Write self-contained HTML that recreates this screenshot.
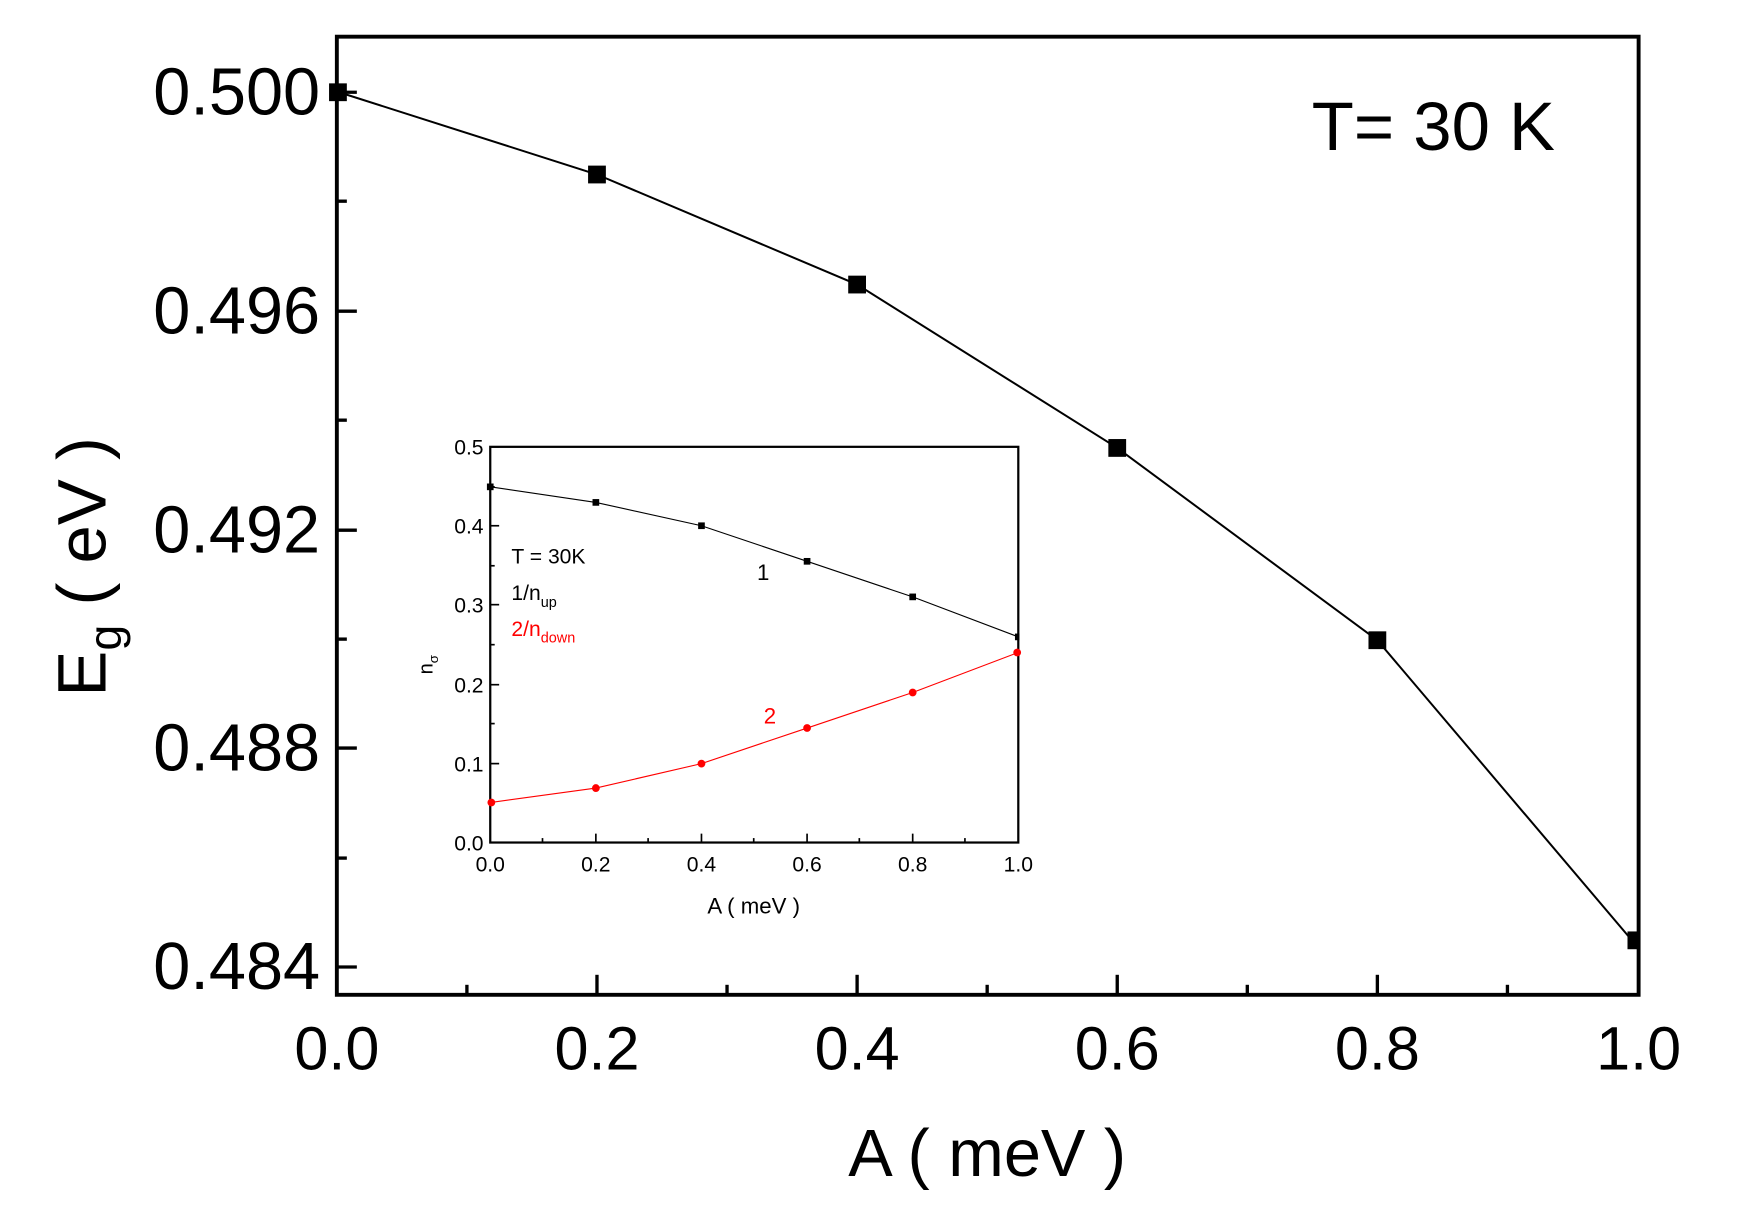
<!DOCTYPE html>
<html><head><meta charset="utf-8"><style>
html,body{margin:0;padding:0;background:#fff;}
svg{display:block;}
text{font-family:"Liberation Sans",Arial,sans-serif;}
</style></head><body>
<svg width="1742" height="1226" viewBox="0 0 1567 1103" preserveAspectRatio="none" xmlns="http://www.w3.org/2000/svg">
<rect width="1567" height="1103" fill="#fff"/>
<rect x="303" y="33" width="1171" height="862" fill="none" stroke="#000" stroke-width="3.5"/>
<g stroke="#000" stroke-width="3">
<line x1="303" y1="83" x2="321" y2="83"/><line x1="303" y1="181" x2="312" y2="181"/>
<line x1="303" y1="280" x2="321" y2="280"/><line x1="303" y1="378" x2="312" y2="378"/>
<line x1="303" y1="477" x2="321" y2="477"/><line x1="303" y1="575" x2="312" y2="575"/>
<line x1="303" y1="673" x2="321" y2="673"/><line x1="303" y1="772" x2="312" y2="772"/>
<line x1="303" y1="870" x2="321" y2="870"/>
<line x1="420" y1="895" x2="420" y2="886"/><line x1="537" y1="895" x2="537" y2="877"/>
<line x1="654" y1="895" x2="654" y2="886"/><line x1="771" y1="895" x2="771" y2="877"/>
<line x1="888" y1="895" x2="888" y2="886"/><line x1="1005" y1="895" x2="1005" y2="877"/>
<line x1="1122" y1="895" x2="1122" y2="886"/><line x1="1239" y1="895" x2="1239" y2="877"/>
<line x1="1356" y1="895" x2="1356" y2="886"/>
</g>
<g font-size="60" text-anchor="end">
<text x="288" y="103">0.500</text><text x="288" y="300">0.496</text>
<text x="288" y="497">0.492</text><text x="288" y="693">0.488</text>
<text x="288" y="890">0.484</text>
</g>
<g font-size="55" text-anchor="middle">
<text x="303" y="962">0.0</text><text x="537" y="962">0.2</text>
<text x="771" y="962">0.4</text><text x="1005" y="962">0.6</text>
<text x="1239" y="962">0.8</text><text x="1474" y="962">1.0</text>
</g>
<text x="888" y="1058" font-size="60" text-anchor="middle">A ( meV )</text>
<text transform="translate(95,510) rotate(-90)" font-size="62" text-anchor="middle">E<tspan font-size="42" dy="14">g</tspan><tspan dy="-14"> ( eV )</tspan></text>
<text x="1180" y="135" font-size="62">T= 30 K</text>
<polyline points="305,83 537,157 771,256 1005,403 1239,576 1468,846" fill="none" stroke="#000" stroke-width="1.8"/>
<g fill="#000">
<rect x="296" y="75" width="16" height="16"/><rect x="529" y="149" width="16" height="16"/>
<rect x="763" y="248" width="16" height="16"/><rect x="997" y="395" width="16" height="16"/>
<rect x="1231" y="568" width="16" height="16"/><rect x="1464" y="838" width="10" height="16"/>
</g>
<rect x="441" y="402" width="475" height="356" fill="none" stroke="#000" stroke-width="2"/>
<g stroke="#000" stroke-width="1.5">
<line x1="441" y1="758" x2="449" y2="758"/><line x1="441" y1="722" x2="445" y2="722"/>
<line x1="441" y1="687" x2="449" y2="687"/><line x1="441" y1="651" x2="445" y2="651"/>
<line x1="441" y1="616" x2="449" y2="616"/><line x1="441" y1="580" x2="445" y2="580"/>
<line x1="441" y1="544" x2="449" y2="544"/><line x1="441" y1="509" x2="445" y2="509"/>
<line x1="441" y1="473" x2="449" y2="473"/><line x1="441" y1="438" x2="445" y2="438"/>
<line x1="441" y1="402" x2="449" y2="402"/>
<line x1="488" y1="758" x2="488" y2="754"/><line x1="536" y1="758" x2="536" y2="750"/>
<line x1="583" y1="758" x2="583" y2="754"/><line x1="631" y1="758" x2="631" y2="750"/>
<line x1="678" y1="758" x2="678" y2="754"/><line x1="726" y1="758" x2="726" y2="750"/>
<line x1="773" y1="758" x2="773" y2="754"/><line x1="821" y1="758" x2="821" y2="750"/>
<line x1="868" y1="758" x2="868" y2="754"/>
</g>
<g font-size="19" text-anchor="end">
<text x="435" y="765">0.0</text><text x="435" y="694">0.1</text>
<text x="435" y="623">0.2</text><text x="435" y="551">0.3</text>
<text x="435" y="480">0.4</text><text x="435" y="409">0.5</text>
</g>
<g font-size="19" text-anchor="middle">
<text x="441" y="784">0.0</text><text x="536" y="784">0.2</text>
<text x="631" y="784">0.4</text><text x="726" y="784">0.6</text>
<text x="821" y="784">0.8</text><text x="916" y="784">1.0</text>
</g>
<text x="678" y="822" font-size="20" text-anchor="middle">A ( meV )</text>
<text transform="translate(389,598) rotate(-90)" font-size="18" text-anchor="middle">n<tspan font-size="12" dy="5">σ</tspan></text>
<polyline points="441,438 536,452 631,473 726,505 821,537 916,573" fill="none" stroke="#000" stroke-width="1"/>
<g fill="#000">
<rect x="438" y="435" width="6" height="6"/><rect x="533" y="449" width="6" height="6"/>
<rect x="628" y="470" width="6" height="6"/><rect x="723" y="502" width="6" height="6"/>
<rect x="818" y="534" width="6" height="6"/><rect x="913" y="570" width="4" height="6"/>
</g>
<polyline points="441,722 536,709 631,687 726,655 821,623 916,587" fill="none" stroke="#f00" stroke-width="1"/>
<g fill="#f00">
<circle cx="442" cy="722" r="3.5"/><circle cx="536" cy="709" r="3.5"/>
<circle cx="631" cy="687" r="3.5"/><circle cx="726" cy="655" r="3.5"/>
<circle cx="821" cy="623" r="3.5"/><circle cx="915" cy="587" r="3.5"/>
</g>
<text x="460" y="507" font-size="19">T = 30K</text>
<text x="460" y="540" font-size="19">1/n<tspan font-size="13" dy="6">up</tspan></text>
<text x="460" y="572" font-size="19" fill="#f00">2/n<tspan font-size="13" dy="6">down</tspan></text>
<text x="681" y="522" font-size="20">1</text>
<text x="687" y="651" font-size="20" fill="#f00">2</text>
</svg>
</body></html>
